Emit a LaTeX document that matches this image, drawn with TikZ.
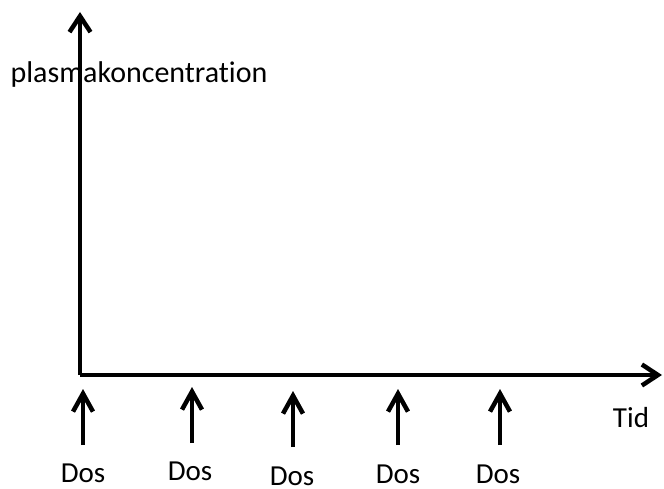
\documentclass[tikz,border=0pt]{standalone}
\usepackage{fontspec}
\setmainfont{Carlito}[Ligatures=NoCommon]
\usetikzlibrary{arrows.meta}

\begin{document}
\begin{tikzpicture}[x=1pt,y=-1pt]
      \tikzset{
      axis/.style={line width=4pt, -{Straight Barb[length=16pt,width=21pt,line width=4.5pt]}},
      dosarrow/.style={line width=4pt, -{Straight Barb[length=18pt,width=20pt,line width=4.5pt]}},
      doslabel/.style={inner sep=0pt, text depth=0pt, font=\fontsize{29}{32}\selectfont},
      }
      \useasboundingbox (0,0) rectangle (664,489);

      %axes
      \coordinate (O) at (80,375);
      \coordinate (ytop) at (80,12);
      \coordinate (xend) at (662,375);
      \draw[axis] (O) -- (ytop);
      \draw[axis] (O) -- (xend);
      \node[inner sep=0pt, anchor=base, font=\fontsize{30}{32}\selectfont] (conc) at (139,83) {plasmakoncentration};
      \node[doslabel, anchor=base] (tid) at (631,427) {Tid};

      %doses
      \coordinate (b1) at (83,445); \coordinate (t1) at (83,389);
      \coordinate (b2) at (192,443); \coordinate (t2) at (192,387);
      \coordinate (b3) at (293,447); \coordinate (t3) at (293,391);
      \coordinate (b4) at (398,445); \coordinate (t4) at (398,389);
      \coordinate (b5) at (500,445); \coordinate (t5) at (500,389);
      \draw[dosarrow] (b1) -- (t1);
      \draw[dosarrow] (b2) -- (t2);
      \draw[dosarrow] (b3) -- (t3);
      \draw[dosarrow] (b4) -- (t4);
      \draw[dosarrow] (b5) -- (t5);
      \node[doslabel, anchor=base] (dos1) at (83,482) {Dos};
      \node[doslabel, anchor=base] (dos2) at (190,480) {Dos};
      \node[doslabel, anchor=base] (dos3) at (292,485) {Dos};
      \node[doslabel, anchor=base] (dos4) at (398,483) {Dos};
      \node[doslabel, anchor=base] (dos5) at (498,483) {Dos};
\end{tikzpicture}
\end{document}
